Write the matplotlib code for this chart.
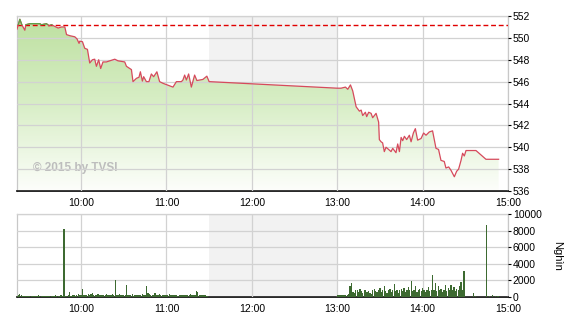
import numpy as np
import matplotlib
matplotlib.use('Agg')
import matplotlib.pyplot as plt
from matplotlib.colors import LinearSegmentedColormap
from matplotlib.patches import Rectangle

plt.rcParams['font.family'] = ['Liberation Sans Narrow', 'Liberation Sans', 'DejaVu Sans']

# ---------------- data ----------------
# time in minutes after 09:00
price_min = [15, 17, 18.4, 20.5, 21.2, 24, 31, 32.2, 35.7, 37.5, 39.2, 43.9, 46.2, 48.6, 49.8,
             52.1, 55.6, 57.2, 58.6, 59.1, 61, 62.6, 64.5, 66.1, 68, 69.6, 70.8, 72.4, 73.8,
             75.4, 77.8, 83.7, 86, 90.7, 91.9, 95.4, 96.5, 98.9, 100.7, 101.7, 103.1, 104,
             105.9, 107.7, 109.4, 111, 113.3, 115.2, 117.5, 124.6, 127, 130.5, 131.6, 132.8,
             134, 135.6, 137.5, 139.8, 141.4, 145.6, 148.4, 150,
             240, 242.7, 245.8, 247.4, 249.3, 250.9, 253.3, 255.6, 256.8, 257.9, 259.8, 260.7,
             262.1, 263.8, 264.9, 267.3, 269.1, 269.6, 270.8, 271.9, 273.1, 274.3, 276.1,
             277.8, 279, 281.3, 282.5, 283.7, 284.9, 286, 287.2, 288.8, 290.7, 291.9, 293.5,
             294.9, 296.5, 298.9, 300.7, 302.4, 304.7, 307, 308.2, 309.4, 311.2, 312.9, 315.2,
             316.4, 318.3, 319.9, 322.3, 323.9, 325.3, 327, 328.1, 329.3, 330.5, 337.5, 344.5,
             353.4]
price_val = [550.8, 551.7, 551.2, 550.7, 551.2, 551.3, 551.3, 551.2, 551.3, 551.1, 551.2, 550.9,
             551.0, 551.0, 550.3, 550.2, 550.1, 549.9, 549.5, 549.7, 549.65, 549.05, 548.95,
             547.7, 548.0, 548.05, 547.4, 548.0, 547.2, 547.8, 547.8, 548.05, 547.9, 547.8,
             547.4, 547.1, 546.0, 546.3, 546.4, 546.9, 546.05, 546.45, 546.0, 546.0, 546.7,
             546.45, 546.9, 546.0, 545.85, 545.5, 546.0, 546.0, 546.15, 546.6, 546.15, 546.7,
             545.5, 546.6, 546.1, 546.2, 546.5, 546.0,
             545.4, 545.4, 545.5, 545.3, 545.7, 545.15, 543.7, 543.3, 543.4, 542.9, 543.2,
             542.8, 543.2, 543.1, 542.7, 543.1, 542.3, 540.7, 540.5, 540.4, 539.6, 540.0,
             539.8, 539.6, 539.9, 539.5, 540.3, 539.6, 540.9, 540.6, 541.0, 540.7, 541.1,
             540.5, 541.3, 541.7, 540.65, 540.8, 541.3, 541.1, 541.4, 541.5, 540.7, 539.9,
             539.8, 538.8, 538.7, 538.1, 538.2, 537.9, 537.3, 537.8, 538.0, 538.8, 539.45,
             539.2, 539.7, 539.7, 538.9, 538.9]
ref_price = 551.15

# volume (thousand shares), one bar per minute
vol_am_start = 15    # 09:15
vol_am = [150, 300, 350, 200, 120, 100, 120, 100, 150, 120, 100, 80, 100, 150, 120,
          200, 100, 120, 100, 150, 100, 120, 100, 100, 150, 120, 100, 200, 150, 100,
          120, 300, 150, 8150, 150, 100, 200, 600, 150, 200, 300, 150, 200, 350, 250,
          200, 950, 250, 300, 200, 350, 250, 400, 450, 250, 200, 300, 350, 250, 200,
          300, 250, 200, 350, 200, 250, 300, 400, 250, 2050, 300, 200, 350, 250, 200,
          300, 250, 1450, 300, 250, 200, 350, 150, 250, 300, 200, 250, 300, 350, 200,
          250, 1330, 450, 400, 300, 200, 250, 450, 300, 250, 350, 200, 300, 250, 200,
          250, 300, 350, 200, 250, 300, 200, 250, 150, 300, 250, 200, 300, 250, 200,
          300, 250, 350, 300, 250, 200, 700, 650, 300, 250, 200, 300, 250, 150, 100]
vol_pm_start = 240   # 13:00
vol_pm = [300, 250, 250, 250, 250, 300, 200, 300, 350, 1350, 1650, 600, 500, 800, 900,
          600, 1000, 700, 500, 900, 800, 600, 700, 500, 400, 800, 1000, 700, 600, 900,
          1100, 600, 900, 1300, 700, 500, 800, 1000, 600, 900, 1600, 700, 800, 500, 900,
          1000, 700, 1100, 600, 800, 1200, 900, 1950, 700, 800, 1300, 600, 900, 1000, 700,
          1100, 800, 600, 900, 1200, 700, 800, 2700, 900, 1650, 700, 1300, 800, 1000, 600,
          900, 1500, 700, 1100, 800, 1400, 900, 1200, 700, 1000, 800, 1300, 1750, 900, 3150]
vol_late_min = [336, 337, 345, 347, 349, 351, 353]
vol_late = [500, 150, 8700, 120, 300, 150, 150]

hour_ticks = [60, 120, 180, 240, 300, 360]
hour_labels = ['10:00', '11:00', '12:00', '13:00', '14:00', '15:00']
price_ticks = [536, 538, 540, 542, 544, 546, 548, 550, 552]
vol_ticks = [0, 2000, 4000, 6000, 8000, 10000]

# ---------------- figure ----------------
fig = plt.figure(figsize=(5.7, 3.2), dpi=100)
fig.patch.set_facecolor('white')
ax1 = fig.add_axes([17/570, 1-191/320, 491/570, 175/320])
ax2 = fig.add_axes([17/570, 1-297/320, 491/570, 83/320])

for ax in (ax1, ax2):
    ax.axvspan(150, 240, color='#f2f2f2', lw=0, zorder=0)
    ax.set_xlim(15, 360)
    ax.set_xticks(hour_ticks)
    ax.set_xticklabels(hour_labels)
    ax.grid(True, color='#d2d2d2', lw=0.9)
    ax.set_axisbelow(False)
    ax.yaxis.tick_right()
    ax.tick_params(axis='x', length=0, labelsize=7.5, pad=5)
    ax.tick_params(axis='y', length=2.5, width=0.8, labelsize=7.5, pad=1, color='black')
    for s in ('top', 'left', 'right'):
        ax.spines[s].set_color('#c8c8c8')
        ax.spines[s].set_linewidth(0.9)
    ax.spines['bottom'].set_color('black')
    ax.spines['bottom'].set_linewidth(1.2)

# price panel
poly = ax1.fill_between(price_min, price_val, 536, facecolor='none', edgecolor='none')
grad = np.linspace(0, 1, 256).reshape(-1, 1)
cmap = LinearSegmentedColormap.from_list('g', ['#fdfefb', '#d8eec6', '#bde0a0'])
im = ax1.imshow(grad, extent=[15, 360, 536, 552], origin='lower', aspect='auto',
                cmap=cmap, zorder=1, interpolation='bilinear')
im.set_clip_path(poly.get_paths()[0], transform=ax1.transData)

ax1.axhline(ref_price, color='#e00000', lw=1.0, ls=(0, (3.5, 2)), zorder=3)
ax1.plot(price_min, price_val, color='#d64a5c', lw=0.9, zorder=4)
ln_g, = ax1.plot(price_min, price_val, color='#5aa548', lw=0.9, zorder=5)
clip_rect = Rectangle((15, ref_price), 345, 10, transform=ax1.transData)
ln_g.set_clip_path(clip_rect)

ax1.set_ylim(536, 552)
ax1.set_xlim(15, 360)
ax1.set_yticks(price_ticks)
ax1.text(0.033, 0.13, '\u00a9 2015 by TVSI', transform=ax1.transAxes, color='#bdbdbd',
         fontsize=8.5, fontweight='bold', va='center', ha='left', zorder=2)

# volume panel
am_x = np.arange(vol_am_start, vol_am_start + len(vol_am))
pm_x = np.arange(vol_pm_start, vol_pm_start + len(vol_pm))
for xs, vs in ((am_x, vol_am), (pm_x, vol_pm), (vol_late_min, vol_late)):
    ax2.bar(xs, vs, width=0.9, color='#3d6a31', lw=0, zorder=3)
ax2.set_ylim(0, 10000)
ax2.set_yticks(vol_ticks)

fig.text(557/570, 1-255.5/320, 'Nghìn', rotation=270, fontsize=8,
         ha='center', va='center')

fig.savefig('out.png', dpi=100, facecolor='white')
